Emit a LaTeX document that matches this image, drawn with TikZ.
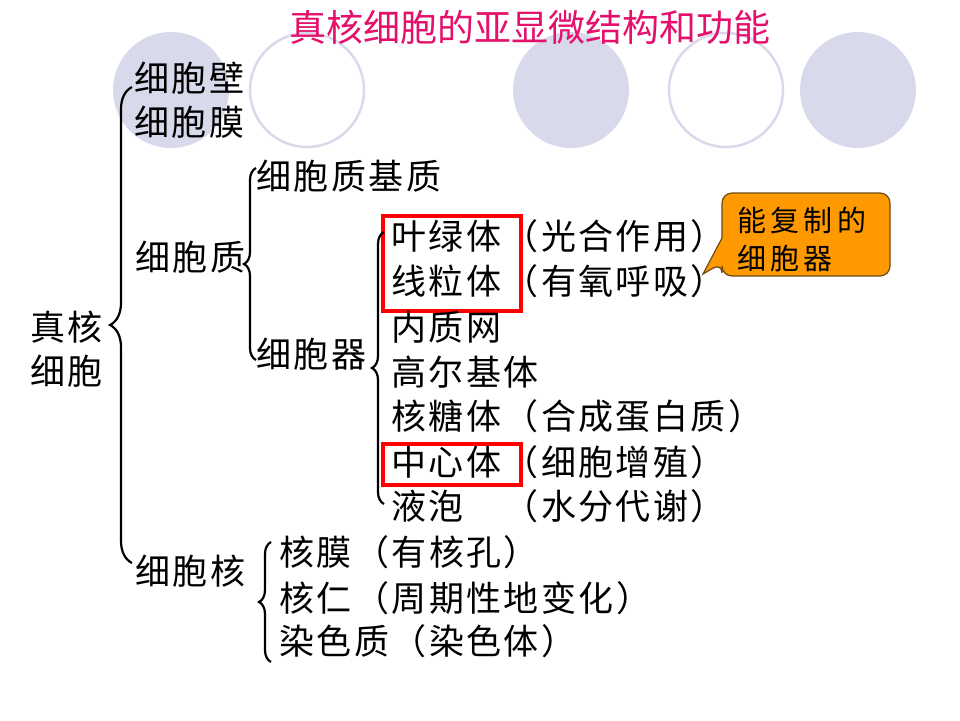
\documentclass[tikz,border=0pt]{standalone}
\usepackage{fontspec}
\usepackage{tikz}
\usetikzlibrary{decorations.pathreplacing}
\newfontfamily\cjk[LetterSpace=7]{Noto Sans CJK SC}
\newfontfamily\cjktitle{Noto Sans CJK SC}
\newfontfamily\cjknote[LetterSpace=15]{Noto Sans CJK SC}
\definecolor{titlered}{RGB}{228,16,108}
\definecolor{dotfill}{RGB}{217,217,236}
\definecolor{notefill}{RGB}{255,153,0}
\definecolor{noteline}{RGB}{110,75,20}
\tikzstyle{txt} = [anchor=west,inner sep=0pt,font=\cjk\fontsize{35pt}{44pt}\selectfont]
\tikzstyle{brc} = [decorate,line width=2.2pt,decoration={brace,amplitude=#1}]
\tikzstyle{redbox} = [draw=red,line width=3.5pt,minimum width=138pt,anchor=north west]
\tikzstyle{ring} = [draw=dotfill,line width=2.5pt]

\begin{document}
\begin{tikzpicture}[x=1pt,y=-1pt]
  \useasboundingbox (0,0) rectangle (960,720);
  % circles behind
  \fill[dotfill] (171,90) circle (58pt);
  \fill[dotfill] (571,90) circle (58pt);
  \fill[dotfill] (858,90) circle (58pt);
  \draw[ring] (307,90) circle (57pt);
  \draw[ring] (726,90) circle (57pt);

  \node[font=\cjktitle\fontsize{37pt}{40pt}\selectfont, text=titlered, inner sep=0pt] at (530,27) (title) {真核细胞的亚显微结构和功能};

  \node[txt, align=left] at (30,349) (euk) {真核\\细胞};
  \node[txt] at (134,78) (wall) {细胞壁};
  \node[txt] at (134,122) (memb) {细胞膜};
  \node[txt] at (135,257) (cyto) {细胞质};
  \node[txt] at (135,571) (nucl) {细胞核};

  \node[txt] at (256,176) (matrix) {细胞质基质};
  \node[txt] at (256,354) (organ) {细胞器};

  \node[redbox, minimum height=95pt] at (381,214) (box1) {};
  \node[redbox, minimum height=41pt] at (381,442) (box2) {};

  \node[txt] at (391,236) (chloro) {叶绿体（光合作用）};
  \node[txt] at (391,281) (mito) {线粒体（有氧呼吸）};
  \node[txt] at (391,327) (er) {内质网};
  \node[txt] at (391,372) (golgi) {高尔基体};
  \node[txt] at (391,416) (ribo) {核糖体（合成蛋白质）};
  \node[txt] at (391,462) (centro) {中心体（细胞增殖）};
  \node[txt] at (391,506) (vacu) {液泡　（水分代谢）};

  \node[txt] at (279,552) (envel) {核膜（有核孔）};
  \node[txt] at (279,598) (nucleo) {核仁（周期性地变化）};
  \node[txt] at (279,641) (chrom) {染色质（染色体）};

  % braces
  \coordinate (b1t) at (132,87);  \coordinate (b1b) at (132,563);
  \coordinate (b2t) at (256,168); \coordinate (b2b) at (256,360);
  \coordinate (b3t) at (384,232); \coordinate (b3b) at (384,504);
  \coordinate (b4t) at (271,542); \coordinate (b4b) at (271,662);
  \draw[brc=22pt] (b1b) -- (b1t);
  \draw[brc=12pt] (b2b) -- (b2t);
  \draw[brc=12pt] (b3b) -- (b3t);
  \draw[brc=12pt] (b4b) -- (b4t);

  % callout
  \coordinate (tip) at (703,274);
  \draw[fill=notefill, draw=noteline, line width=1.2pt] (722,238) [rounded corners=10pt] -- (722,193) -- (890,193) -- (890,276) -- (722,276) -- (722,263) [sharp corners] -- (tip) -- cycle;
  \node[anchor=west, inner sep=0pt, align=left, font=\cjknote\fontsize{29pt}{38pt}\selectfont] at (737,239) (note) {能复制的\\细胞器};
\end{tikzpicture}
\end{document}
